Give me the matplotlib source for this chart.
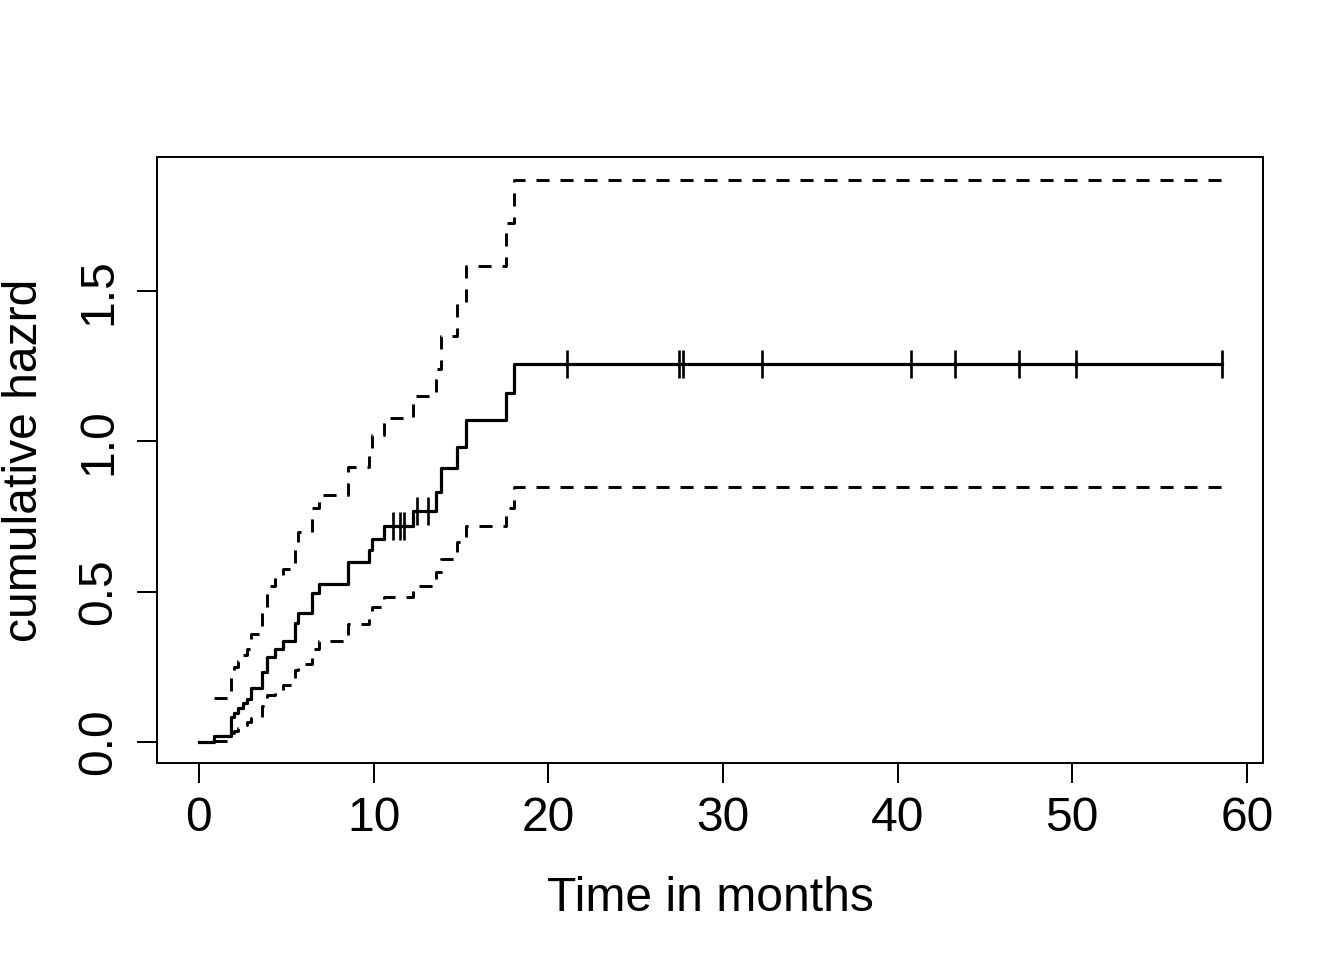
import numpy as np
import matplotlib
matplotlib.use("Agg")
import matplotlib.pyplot as plt

plt.rcParams['font.family'] = ['Liberation Sans', 'DejaVu Sans']
plt.rcParams['lines.scale_dashes'] = False

# event times (months) and cumulative hazard estimates
event_times = [0.86, 1.81, 2.0, 2.25, 2.5, 2.77, 2.96, 3.59, 3.88, 4.35, 4.83,
               5.5, 5.68, 6.45, 6.89, 8.55, 9.75, 9.92, 10.61, 12.23, 13.6,
               13.84, 14.77, 15.27, 17.58, 18.03]
cumhaz = [0.02, 0.084, 0.095, 0.112, 0.129, 0.142, 0.179, 0.234, 0.284, 0.31,
          0.337, 0.395, 0.428, 0.495, 0.525, 0.60, 0.64, 0.675, 0.72, 0.77,
          0.83, 0.91, 0.98, 1.07, 1.16, 1.257]
upper = [0.145, 0.23, 0.25, 0.27, 0.29, 0.31, 0.36, 0.45, 0.52, 0.55, 0.575,
         0.66, 0.70, 0.777, 0.82, 0.916, 0.97, 1.02, 1.077, 1.15, 1.24, 1.35,
         1.46, 1.584, 1.726, 1.87]
lower = [0.003, 0.03, 0.037, 0.045, 0.055, 0.065, 0.08, 0.12, 0.156, 0.17,
         0.19, 0.24, 0.26, 0.31, 0.336, 0.391, 0.42, 0.45, 0.481, 0.519,
         0.566, 0.608, 0.666, 0.718, 0.779, 0.847]
censor_times = [11.09, 11.51, 11.74, 12.46, 13.13, 21.07, 27.48, 27.71, 32.23,
                40.76, 43.28, 46.95, 50.21, 58.57]
end_time = 58.57

xticks = [0, 10, 20, 30, 40, 50, 60]
yticks = [0.0, 0.5, 1.0, 1.5]
ytick_labels = ["0.0", "0.5", "1.0", "1.5"]

fig = plt.figure(figsize=(7, 5), dpi=192)
ax = fig.add_axes([157/1344, 1-763/960, (1263-157)/1344, (763-157)/960])

et = np.array(event_times)
ch = np.array(cumhaz)

# main estimate
tx = np.concatenate([[0.0], et, [end_time]])
ty = np.concatenate([[0.0], ch, [ch[-1]]])
ax.step(tx, ty, where='post', color='black', lw=1.2)

# confidence limits
cx = np.concatenate([et, [end_time]])
for band in (upper, lower):
    b = np.array(band)
    ax.step(cx, np.concatenate([b, [b[-1]]]), where='post', color='black',
            lw=1.1, linestyle=(0, (4.9, 4.1)))

# censoring marks
ct = np.array(censor_times)
idx = np.searchsorted(et, ct, side='right') - 1
cy = np.where(idx >= 0, ch[np.clip(idx, 0, None)], 0.0)
ax.plot(ct, cy, linestyle='none', marker='|', markersize=10.5,
        markeredgewidth=1.0, color='black')

ax.set_xlim(-2.4, 60.92)
ax.set_ylim(-0.07, 1.946)
ax.set_xticks(xticks)
ax.set_xticklabels([str(v) for v in xticks])
ax.set_yticks(yticks)
ax.set_yticklabels(ytick_labels, rotation=90, va='center')

for s in ax.spines.values():
    s.set_linewidth(0.75)
ax.tick_params(axis='both', direction='out', length=7.5, width=0.75,
               labelsize=18, pad=5)
ax.tick_params(axis='y', pad=6)

ax.set_xlabel("Time in months", fontsize=18, labelpad=13)
ax.set_ylabel("cumulative hazrd", fontsize=18, labelpad=11)

fig.savefig("out.png", dpi=192)
